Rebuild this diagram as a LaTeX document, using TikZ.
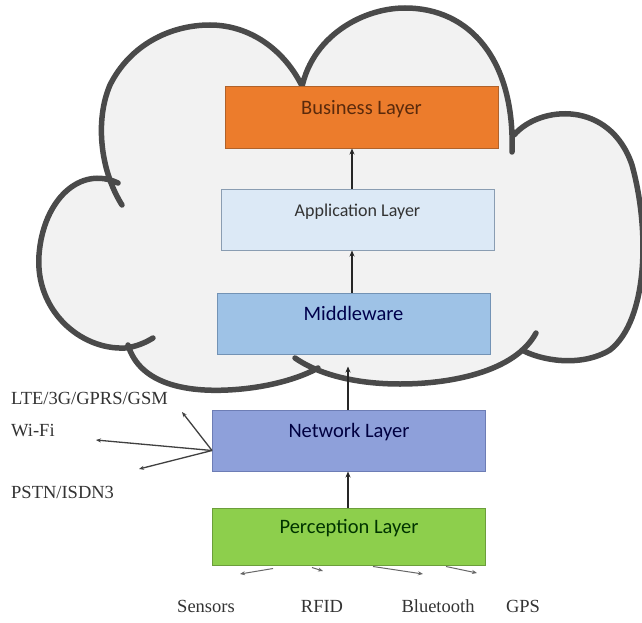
\documentclass[tikz,border=0pt]{standalone}
\usepackage{fontspec}
\setmainfont{Liberation Serif}
\newfontfamily\boxfont{Carlito}
\usetikzlibrary{arrows.meta, positioning}

\definecolor{cloudgray}{HTML}{F2F2F2}
\definecolor{cloudline}{HTML}{4A4A4A}
\definecolor{labelgray}{HTML}{333333}
\definecolor{busfill}{HTML}{EC7C2C}
\definecolor{busdraw}{HTML}{B0622A}
\definecolor{bustext}{HTML}{5A2A0C}
\definecolor{appfill}{HTML}{DCE9F6}
\definecolor{appdraw}{HTML}{8A9DB2}
\definecolor{midfill}{HTML}{9EC2E6}
\definecolor{middraw}{HTML}{7393B5}
\definecolor{netfill}{HTML}{8EA0DA}
\definecolor{netdraw}{HTML}{6D7DB5}
\definecolor{perfill}{HTML}{8DCF4C}
\definecolor{perdraw}{HTML}{6C9E3B}

\begin{document}
\begin{tikzpicture}[x=1pt, y=-1pt, >={Stealth[length=6pt,width=5pt]},
layer/.style={
rectangle,
draw,
line width=1pt,
minimum width=273pt,
minimum height=61pt,
text height=10pt,
text depth=17pt,
inner sep=0pt,
font=\boxfont\fontsize{20.5}{24}\selectfont
},
tech/.style={
font=\fontsize{18.5}{21}\selectfont,
text=labelgray,
inner sep=0pt
},
cloud edge/.style={line width=5.5pt, draw=cloudline, line cap=round},
flow/.style={->, line width=1.2pt, draw=black!85},
link/.style={->, line width=1.3pt, draw=black!75, >={Stealth[length=5pt,width=4pt]}}
]

\fill[white] (0,0) rectangle (642,623);
\useasboundingbox (0,0) rectangle (642,623);

% cloud
\fill[cloudgray]
 (122,205) .. controls (100,170) and (95,120) .. (110,85) .. controls (130,45) and (170,25) .. (210,25) .. controls (250,25) and (285,50) .. (303,88)
 -- (300,100) .. controls (305,40) and (360,8) .. (405,8) .. controls (470,8) and (515,60) .. (512,152)
 -- (514,135) .. controls (540,105) and (610,100) .. (632,165) .. controls (650,230) and (648,320) .. (610,350) .. controls (580,368) and (540,360) .. (522,350)
 -- (536,333) .. controls (515,372) and (450,384) .. (400,384) .. controls (350,384) and (315,372) .. (295,358)
 -- (318,368) .. controls (300,378) and (268,388) .. (228,390) .. controls (188,392) and (140,385) .. (128,345)
 -- (153,338) .. controls (145,343) and (135,347) .. (125,348) .. controls (80,350) and (35,310) .. (39,255) .. controls (43,200) and (80,165) .. (118,183) -- cycle;
\draw[cloud edge]
 (122,205) .. controls (100,170) and (95,120) .. (110,85) .. controls (130,45) and (170,25) .. (210,25) .. controls (250,25) and (285,50) .. (303,88)
 (300,100) .. controls (305,40) and (360,8) .. (405,8) .. controls (470,8) and (515,60) .. (512,152)
 (514,135) .. controls (540,105) and (610,100) .. (632,165) .. controls (650,230) and (648,320) .. (610,350) .. controls (580,368) and (540,360) .. (522,350)
 (536,333) .. controls (515,372) and (450,384) .. (400,384) .. controls (350,384) and (315,372) .. (295,358)
 (318,368) .. controls (300,378) and (268,388) .. (228,390) .. controls (188,392) and (140,385) .. (128,345)
 (153,338) .. controls (145,343) and (135,347) .. (125,348) .. controls (80,350) and (35,310) .. (39,255) .. controls (43,200) and (80,165) .. (118,183);

% layers
\node[layer, fill=busfill, draw=busdraw, text=bustext] (business) at (361.5,117.5) {Business Layer};
\node[layer, fill=appfill, draw=appdraw, text=black!80, font=\boxfont\fontsize{18}{22}\selectfont] (application) [below=40pt of business, xshift=-4pt] {Application Layer};
\node[layer, fill=midfill, draw=middraw, text=blue!30!black] (middleware) [below=42pt of application, xshift=-4pt] {Middleware};
\node[layer, fill=netfill, draw=netdraw, text=blue!25!black] (network) [below=55pt of middleware, xshift=-4.5pt] {Network Layer};
\node[layer, fill=perfill, draw=perdraw, text=green!20!black, minimum height=57pt] (perception) [below=36pt of network] {Perception Layer};

\draw[flow] (application.north -| 352,0) -- (business.south -| 352,0);
\draw[flow] (middleware.north -| 352,0) -- (application.south -| 352,0);
\draw[flow, shorten >=12pt] (network.north -| 348,0) -- (middleware.south -| 348,0);
\draw[flow] (perception.north -| 348,0) -- (network.south -| 348,0);

% network links
\coordinate (hub) at ([yshift=-10pt]network.west);
\coordinate (lte) at (182,412);
\coordinate (wifi) at (96,440);
\coordinate (pstn) at (139,469);

\node[tech, anchor=west] (lte text) at (11,398) {LTE/3G/GPRS/GSM};
\node[tech, anchor=west] (wifi text) at (11,431) {Wi-Fi};
\node[tech, anchor=west] (pstn text) at (11,492) {PSTN/ISDN3};

\draw[link] (hub) -- (lte);
\draw[link] (hub) -- (wifi);
\draw[link] (hub) -- (pstn);

% perception links
\coordinate (p1) at ([xshift=-76pt, yshift=-3pt]perception.south);
\coordinate (p2) at ([xshift=-37pt, yshift=-2pt]perception.south);
\coordinate (p3) at ([xshift=24pt, yshift=-1pt]perception.south);
\coordinate (p4) at ([xshift=97pt, yshift=-1pt]perception.south);
\coordinate (s1) at (240,574);
\coordinate (s2) at (323,571);
\coordinate (s3) at (423,574);
\coordinate (s4) at (477,573);

\draw[link, line width=1pt, draw=black!60] (p1) -- (s1);
\draw[link, line width=1pt, draw=black!60] (p2) -- (s2);
\draw[link, line width=1pt, draw=black!60] (p3) -- (s3);
\draw[link, line width=1pt, draw=black!60] (p4) -- (s4);

\node[tech] (sensors) at (206,606) {Sensors};
\node[tech] (rfid) at (322,606) {RFID};
\node[tech] (bluetooth) at (438,606) {Bluetooth};
\node[tech] (gps) at (523,606) {GPS};

\end{tikzpicture}
\end{document}
